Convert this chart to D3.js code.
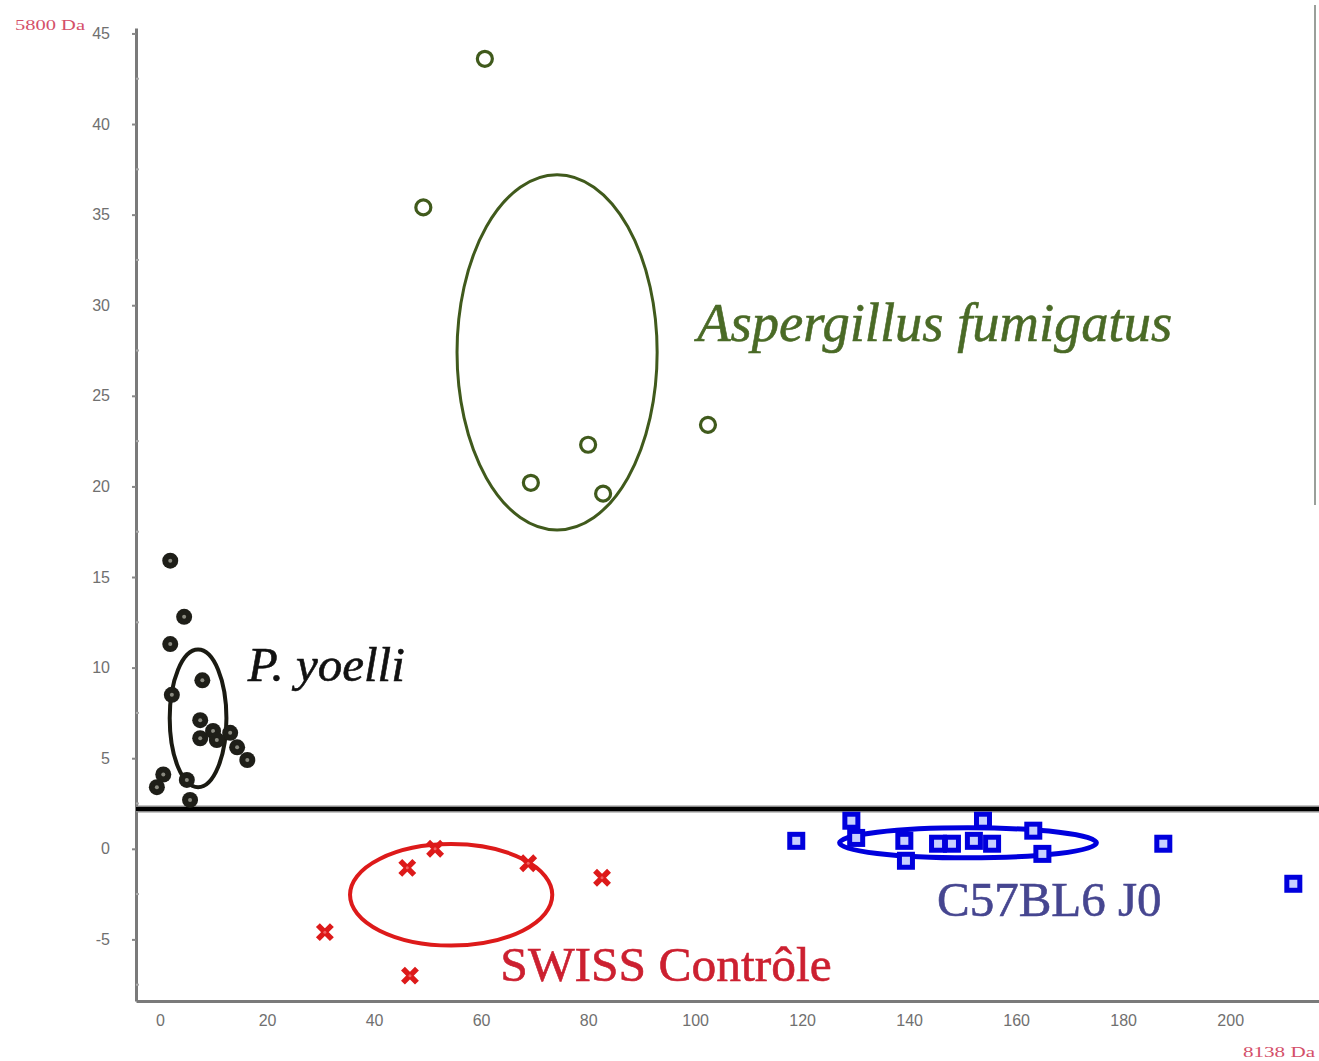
<!DOCTYPE html>
<html><head><meta charset="utf-8">
<script src="https://cdn.jsdelivr.net/npm/d3@7"></script>
<style>html,body{margin:0;padding:0;background:#fff;}svg{display:block;}</style>
</head><body>
<script>
// ---- data ----
const xTicks = [0, 20, 40, 60, 80, 100, 120, 140, 160, 180, 200];
const yTicks = [45, 40, 35, 30, 25, 20, 15, 10, 5, 0, -5];
const yMinorTicks = [42.5, 37.5, 32.5, 27.5, 22.5, 17.5, 12.5, 7.5, 2.5, -2.5, -7.5];
const xAxisLabel = "8138 Da";
const yAxisLabel = "5800 Da";

const aspergillusPts = [[60.7, 43.6], [49.2, 35.4], [69.3, 20.2], [80.0, 22.3], [82.8, 19.6], [102.4, 23.4]];
const yoelliPts = [[1.9, 15.9], [4.5, 12.8], [1.9, 11.3], [7.9, 9.3], [2.2, 8.5], [7.5, 7.1], [7.5, 6.1], [9.9, 6.5],
  [13.1, 6.4], [14.4, 5.6], [16.3, 4.9], [0.6, 4.1], [-0.6, 3.4], [5.0, 3.8], [5.6, 2.7], [10.6, 6.0]];
const c57Pts = [[118.9, 0.44], [129.2, 1.55], [130.1, 0.6], [139.1, 0.44], [139.4, -0.66], [145.4, 0.28], [148.0, 0.28],
  [152.1, 0.44], [153.8, 1.55], [155.5, 0.28], [163.2, 1.0], [164.9, -0.28], [187.5, 0.28], [211.8, -1.93]];
const swissPts = [[46.2, -1.05], [51.4, 0.0], [68.8, -0.8], [82.6, -1.6], [30.8, -4.6], [46.7, -7.0]];

// group ellipses: centre x, centre y, radius x, radius y (data units)
const groupNames = ["Aspergillus fumigatus", "P. yoelli", "C57BL6 J0", "SWISS Contrôle"];
const ellipseCx = [74.2, 7.1, 151.0, 54.4];
const ellipseCy = [27.4, 7.2, 0.33, -2.54];
const ellipseRx = [18.7, 5.3, 24.0, 18.9];
const ellipseRy = [9.8, 3.8, 0.83, 2.8];
// label anchors (data units)
const labelX = [100.4, 16.4, 145.2, 63.6];
const labelY = [28.0, 9.27, -3.7, -7.3];
const separatorY = 2.2;

// ---- drawing ----
const W = 1319, H = 1061;
const svg = d3.select("body").append("svg").attr("width", W).attr("height", H);
const x = d3.scaleLinear().domain([-4.5, 216.6]).range([136, 1319]);
const y = d3.scaleLinear().domain([-8.4, 45.3]).range([1001, 28]);

const tickFont = "Liberation Sans, Arial, sans-serif";
const fmt = d => String(d);

// right border line
svg.append("line").attr("x1", 1315).attr("x2", 1315).attr("y1", 5).attr("y2", 505)
  .attr("stroke", "#9a9f9a").attr("stroke-width", 2);

// y axis
const yAxisG = svg.append("g").attr("transform", "translate(136,0)")
  .call(d3.axisLeft(y).tickValues(yTicks).tickFormat(fmt).tickSize(4).tickPadding(22).tickSizeOuter(0));
yAxisG.select(".domain").attr("stroke", "#7a7a7a").attr("stroke-width", 3);
yAxisG.selectAll(".tick line").attr("stroke", "#888").attr("stroke-width", 2);
yAxisG.selectAll(".tick text").attr("fill", "#707070").style("font-family", tickFont).style("font-size", "16px");
yAxisG.selectAll(".minor").data(yMinorTicks).enter().append("line")
  .attr("x1", 0).attr("x2", 3).attr("y1", d => y(d)).attr("y2", d => y(d))
  .attr("stroke", "#aaa").attr("stroke-width", 2);

// x axis
const xAxisG = svg.append("g").attr("transform", "translate(0,1001)")
  .call(d3.axisBottom(x).tickValues(xTicks).tickFormat(fmt).tickSize(0).tickPadding(14).tickSizeOuter(0));
xAxisG.select(".domain").attr("stroke", "#7a7a7a").attr("stroke-width", 3);
xAxisG.selectAll(".tick text").attr("fill", "#707070").style("font-family", tickFont).style("font-size", "16px");

// axis unit labels
svg.append("text").attr("x", 15).attr("y", 30).text(yAxisLabel)
  .attr("fill", "#d4506a").style("font-family", "Liberation Serif, serif").style("font-size", "15px")
  .attr("textLength", 70).attr("lengthAdjust", "spacingAndGlyphs");
svg.append("text").attr("x", 1243).attr("y", 1057).text(xAxisLabel)
  .attr("fill", "#d4506a").style("font-family", "Liberation Serif, serif").style("font-size", "15px")
  .attr("textLength", 72).attr("lengthAdjust", "spacingAndGlyphs");

// separator line
svg.append("line").attr("x1", x(-4.5)).attr("x2", W).attr("y1", y(separatorY)).attr("y2", y(separatorY))
  .attr("stroke", "#8a8a8a").attr("stroke-width", 7);
svg.append("line").attr("x1", x(-4.5)).attr("x2", W).attr("y1", y(separatorY)).attr("y2", y(separatorY))
  .attr("stroke", "#000").attr("stroke-width", 4);

// ellipses
const ellColors = ["#405a1c", "#1a1a12", "#0000dd", "#dd1a1a"];
const ellWidths = [3, 4, 5, 4];
groupNames.forEach((g, i) => {
  svg.append("ellipse")
    .attr("cx", x(ellipseCx[i])).attr("cy", y(ellipseCy[i]))
    .attr("rx", x(ellipseCx[i] + ellipseRx[i]) - x(ellipseCx[i]))
    .attr("ry", y(ellipseCy[i]) - y(ellipseCy[i] + ellipseRy[i]))
    .attr("fill", "none").attr("stroke", ellColors[i]).attr("stroke-width", ellWidths[i]);
});

// Aspergillus: hollow circles
svg.selectAll(".asp").data(aspergillusPts).enter().append("circle")
  .attr("cx", d => x(d[0])).attr("cy", d => y(d[1])).attr("r", 7.5)
  .attr("fill", "#fff").attr("stroke", "#405a1c").attr("stroke-width", 3.2);

// P. yoelli: dark filled circles with light centre
const yo = svg.selectAll(".yo").data(yoelliPts).enter().append("g")
  .attr("transform", d => `translate(${x(d[0])},${y(d[1])})`);
yo.append("circle").attr("r", 8).attr("fill", "#1e1e18");
yo.append("circle").attr("r", 2).attr("fill", "#8a8a80");

// C57BL6: blue squares
const sq = svg.selectAll(".sq").data(c57Pts).enter().append("g")
  .attr("transform", d => `translate(${x(d[0])},${y(d[1])})`);
sq.append("rect").attr("x", -9).attr("y", -9).attr("width", 18).attr("height", 18).attr("fill", "#0000dd");
sq.append("rect").attr("x", -4).attr("y", -4).attr("width", 8).attr("height", 8).attr("fill", "#c8d0ff");

// SWISS: red crosses
const cr = svg.selectAll(".cr").data(swissPts).enter().append("g")
  .attr("transform", d => `translate(${x(d[0])},${y(d[1])})`);
cr.append("path").attr("d", "M-7,-7L7,7M7,-7L-7,7").attr("stroke", "#dd1a1a").attr("stroke-width", 5.5);
cr.append("circle").attr("r", 1.5).attr("fill", "#f06060");

// group labels
const labColors = ["#4a6a26", "#111", "#464690", "#cc2030"];
const labStyle = ["italic", "italic", "normal", "normal"];
const labSize = [54.5, 49, 49, 49.5];
groupNames.forEach((g, i) => {
  svg.append("text").attr("x", x(labelX[i])).attr("y", y(labelY[i])).text(g)
    .attr("fill", labColors[i])
    .attr("stroke", labColors[i]).attr("stroke-width", 0.6)
    .style("font-family", "Liberation Serif, 'Times New Roman', serif")
    .style("font-style", labStyle[i]).style("font-size", labSize[i] + "px");
});
</script>
</body></html>
